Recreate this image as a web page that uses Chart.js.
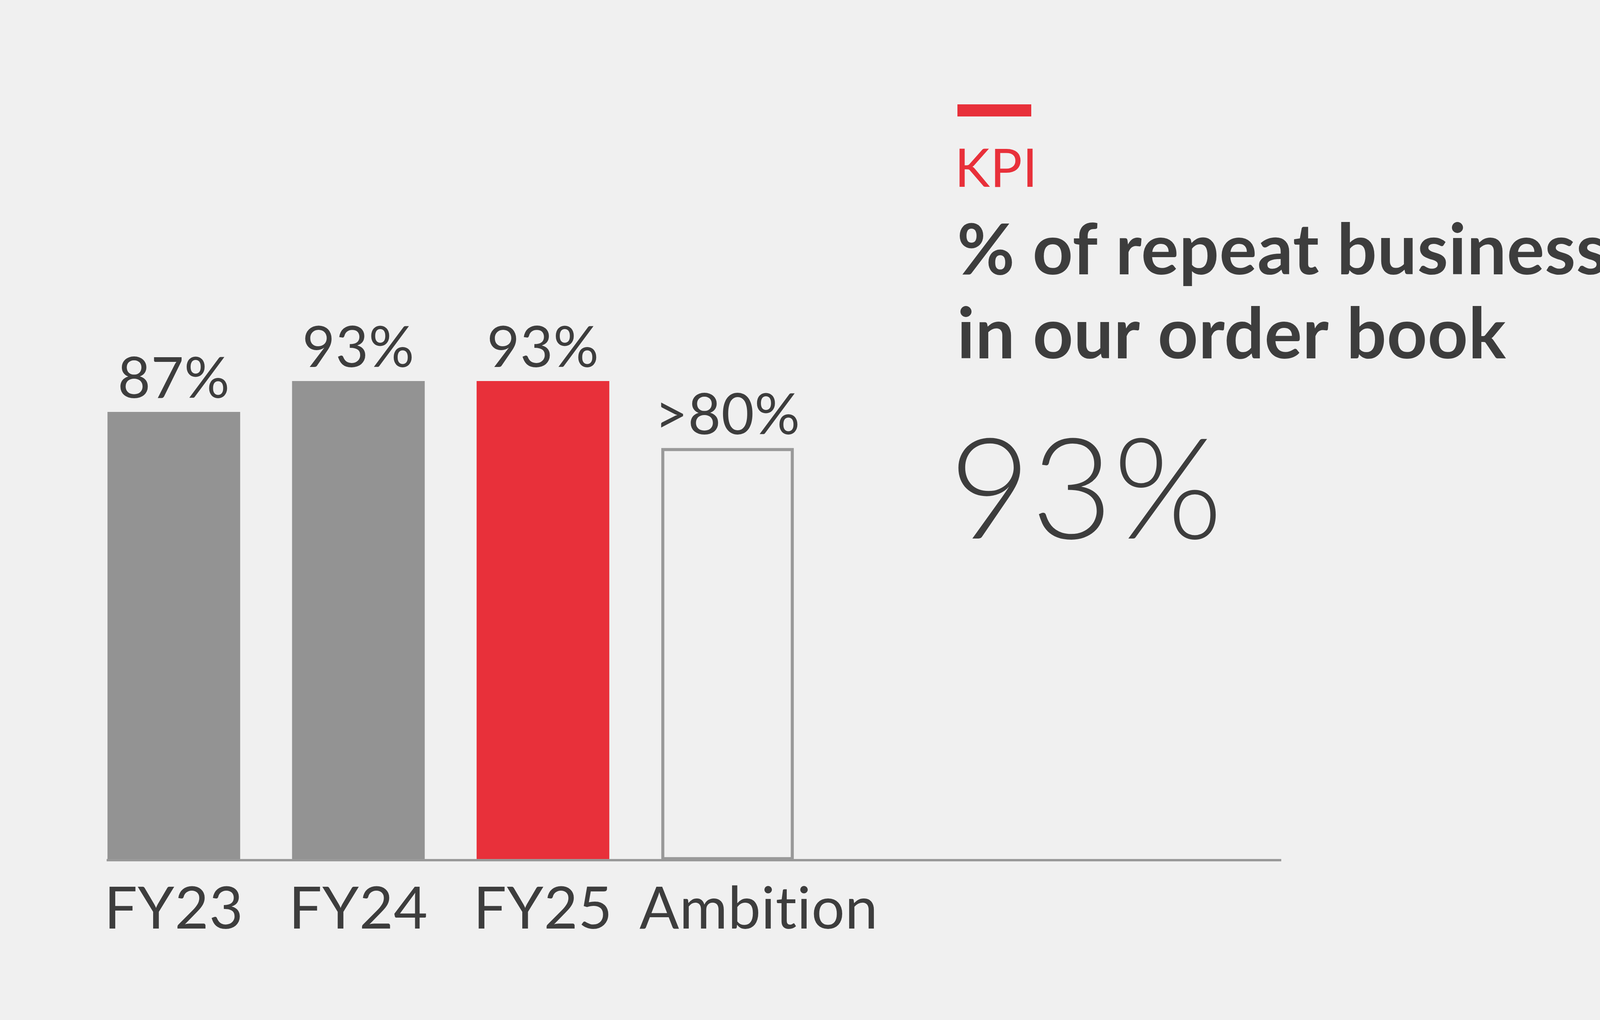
<!DOCTYPE html>
<html>
<head>
<meta charset="utf-8">
<script src="https://cdn.jsdelivr.net/npm/chart.js@4/dist/chart.umd.min.js"></script>
<style>
  html, body { margin: 0; padding: 0; background: #f0f0f0; }
  #wrap { position: absolute; left: 0; top: 0; width: 4500px; height: 2610px; }
</style>
</head>
<body>
<div id="wrap"><canvas id="kpi"></canvas></div>
<script>
const categories = ['FY23', 'FY24', 'FY25', 'Ambition'];
const values = [87, 93, 93, 80];
const valueLabels = ['87%', '93%', '93%', '>80%'];
const fills = ['#939393', '#939393', '#e8303a', '#f0f0f0'];
const borders = ['#939393', '#939393', '#e8303a', '#999999'];

const textColor = '#3d3d3d';
const red = '#e8303a';

// value labels, category labels, axis line and the KPI text block
const decor = {
    id: 'decor',
    afterDraw(chart) {
        const ctx = chart.ctx;
        const x = chart.scales.x;
        const y = chart.scales.y;
        const area = chart.chartArea;
        ctx.save();

        ctx.strokeStyle = '#999999';
        ctx.lineWidth = 6;
        ctx.beginPath();
        ctx.moveTo(area.left, y.getPixelForValue(0));
        ctx.lineTo(area.right, y.getPixelForValue(0));
        ctx.stroke();

        ctx.fillStyle = textColor;
        ctx.textAlign = 'center';
        ctx.letterSpacing = '1px'; // keeps Lato from joining "ti"
        values.forEach((v, i) => {
            const cx = x.getPixelForValue(i);
            ctx.font = '400 145px Lato';
            ctx.textBaseline = 'alphabetic';
            ctx.fillText(valueLabels[i], cx, y.getPixelForValue(v) - 36);
            ctx.font = '400 150px Lato';
            ctx.fillText(categories[i], i === 3 ? cx + 80 : cx, 2376);
        });

        ctx.textAlign = 'left';
        ctx.fillStyle = red;
        ctx.fillRect(2451, 267, 189, 31);
        ctx.font = '400 136px Lato';
        ctx.fillText('KPI', 2444, 478);

        ctx.fillStyle = textColor;
        ctx.font = '700 180px Lato';
        ctx.fillText('% of repeat business', 2450, 702);
        ctx.fillText('in our order book', 2450, 917);

        ctx.font = '300 360px Lato';
        ctx.fillText('93%', 2430, 1378);
        ctx.restore();
    }
};

new Chart(document.getElementById('kpi'), {
    type: 'bar',
    data: {
        datasets: [{
            data: values.map((v, i) => ({ x: i, y: v })),
            backgroundColor: fills,
            borderColor: borders,
            borderWidth: [0, 0, 0, 8],
            borderSkipped: false,
            barThickness: 339
        }]
    },
    options: {
        responsive: true,
        maintainAspectRatio: false,
        animation: false,
        layout: { padding: { left: 273, right: 1220, top: 0, bottom: 409 } },
        scales: {
            x: { type: 'linear', offset: false, min: -0.364, max: 6.0, display: false },
            y: { min: 0, max: 167, display: false }
        },
        plugins: { legend: { display: false }, tooltip: { enabled: false } }
    },
    plugins: [decor]
});
</script>
</body>
</html>
